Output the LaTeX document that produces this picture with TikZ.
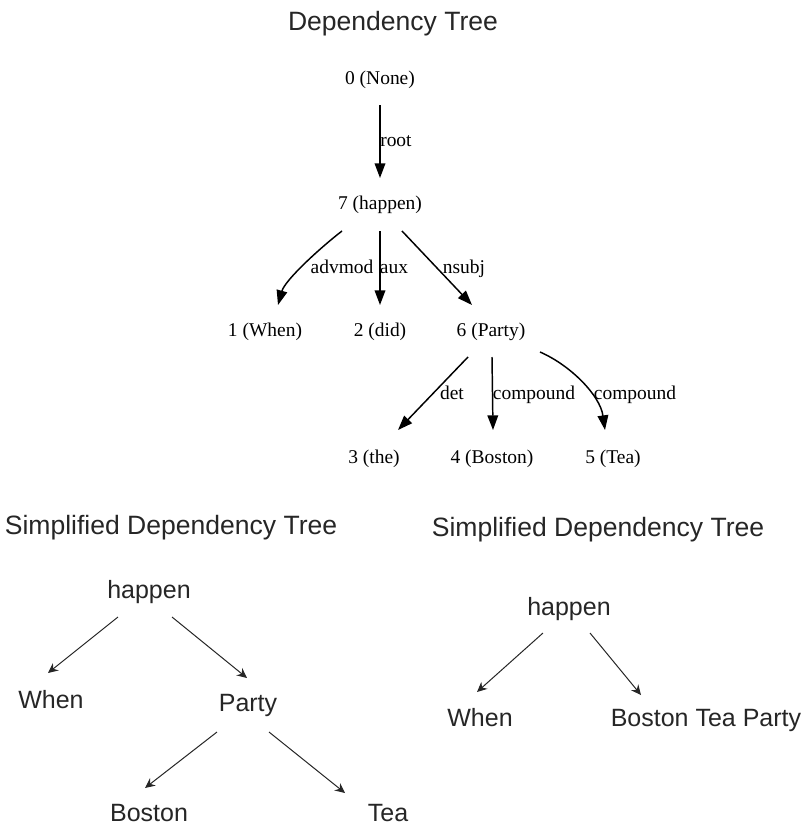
\documentclass[tikz,border=0pt]{standalone}
\usepackage{fontspec}
\setmainfont{Liberation Serif}
\newfontfamily\treesans{Liberation Sans}
\usetikzlibrary{arrows.meta}
\begin{document}
\begin{tikzpicture}[x=0.75pt,y=-0.75pt,
  depnode/.style={inner sep=0pt, font=\fontsize{14.6pt}{17pt}\selectfont, text height=12.5pt, text depth=2.2pt},
  deplabel/.style={depnode},
  title/.style={inner sep=0pt, font=\treesans\fontsize{19.9pt}{23pt}\selectfont, text=black!85, text height=16.2pt, text depth=2pt},
  simple/.style={inner sep=0pt, font=\treesans\fontsize{18.75pt}{22pt}\selectfont, text=black!85, text height=15pt, text depth=2pt},
  deparrow/.style={line width=1.1pt, -{Triangle[length=11pt,width=8pt]}},
  simplearrow/.style={line width=0.75pt, black!85, -{Stealth[length=7.5pt,width=7pt,inset=2.5pt]}}
]
\useasboundingbox (0,0) rectangle (806,828);

% ---------- full dependency tree ----------
\node[title] (t1) at (393,21) {Dependency Tree};

\node[depnode] (n0) at (380,78)  {0 (None)};
\node[depnode] (n7) at (380,203) {7 (happen)};
\node[depnode] (n1) at (265,330) {1 (When)};
\node[depnode] (n2) at (380,330) {2 (did)};
\node[depnode] (n6) at (491,330) {6 (Party)};
\node[depnode] (n3) at (374,457) {3 (the)};
\node[depnode] (n4) at (492,457) {4 (Boston)};
\node[depnode] (n5) at (613,457) {5 (Tea)};

\draw[deparrow] ([shift={(0,27)}]n0.center) -- ([shift={(0,-25)}]n7.center);
\draw[deparrow] ([shift={(-38,28)}]n7.center)
  .. controls ([shift={(-60,45)}]n7.center) and ([shift={(20,-50)}]n1.center)
  .. ([shift={(13,-25)}]n1.center);
\draw[deparrow] ([shift={(0,28)}]n7.center) -- ([shift={(0,-25)}]n2.center);
\draw[deparrow] ([shift={(22,28)}]n7.center) -- ([shift={(-19,-25)}]n6.center);

\draw[deparrow] ([shift={(-23,27)}]n6.center) -- ([shift={(24,-27)}]n3.center);
\draw[deparrow] ([shift={(1,27)}]n6.center) -- ([shift={(1,-27)}]n4.center);
\draw[deparrow] ([shift={(49,22)}]n6.center)
  .. controls ([shift={(79,35)}]n6.center) and ([shift={(-13,-62)}]n5.center)
  .. ([shift={(-8,-27)}]n5.center);

\node[deplabel, anchor=west] (lroot) at (380,140) {root};
\node[deplabel] (ladv)  at (342,267) {advmod};
\node[deplabel] (laux)  at (394,267) {aux};
\node[deplabel] (lsubj) at (464,267) {nsubj};
\node[deplabel] (ldet)  at (452,393) {det};
\node[deplabel] (lcp1)  at (534,393) {compound};
\node[deplabel] (lcp2)  at (635,393) {compound};

% ---------- simplified tree (left) ----------
\node[title] (t2) at (171,525) {Simplified Dependency Tree};

\node[simple] (a) at (149,590) {happen};
\node[simple] (b) at (51,700)  {When};
\node[simple] (c) at (248,703) {Party};
\node[simple] (d) at (149,813) {Boston};
\node[simple] (e) at (388,813) {Tea};

\draw[simplearrow] ([shift={(-31,27)}]a.center) -- ([shift={(-3,-27)}]b.center);
\draw[simplearrow] ([shift={(23,27)}]a.center) -- ([shift={(-1,-25)}]c.center);
\draw[simplearrow] ([shift={(-31,29)}]c.center) -- ([shift={(-4,-25)}]d.center);
\draw[simplearrow] ([shift={(21,29)}]c.center) -- ([shift={(-43,-20)}]e.center);

% ---------- simplified tree (right) ----------
\node[title] (t3) at (598,527) {Simplified Dependency Tree};

\node[simple] (f) at (569,607) {happen};
\node[simple] (g) at (480,718) {When};
\node[simple] (h) at (706,718) {Boston Tea Party};

\draw[simplearrow] ([shift={(-26,26)}]f.center) -- ([shift={(-3,-26)}]g.center);
\draw[simplearrow] ([shift={(21,26)}]f.center) -- ([shift={(-65,-23)}]h.center);
\end{tikzpicture}
\end{document}
